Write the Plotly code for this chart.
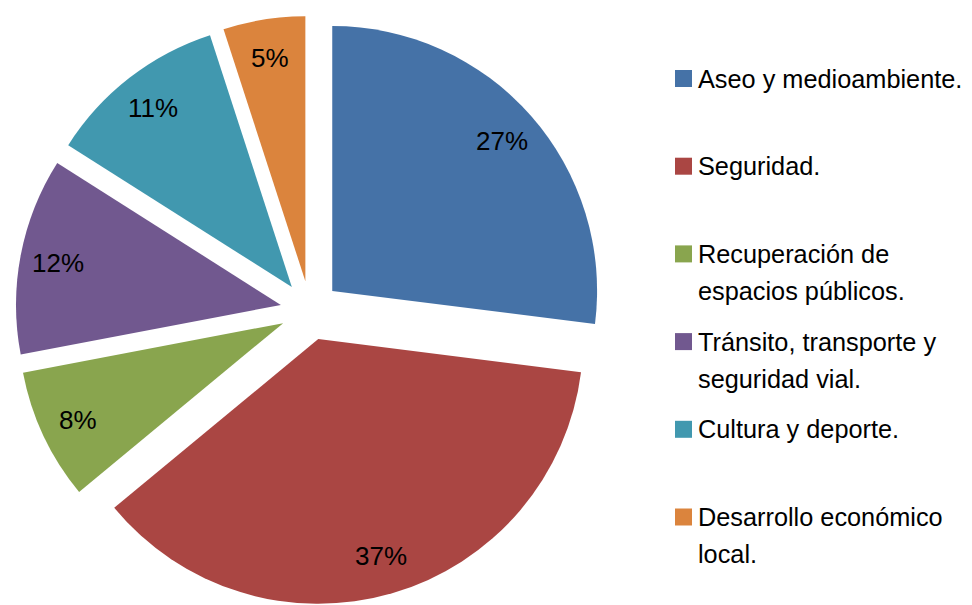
import math
import plotly.graph_objects as go

# ---- data ----
categories = [
    "Aseo y medioambiente.",
    "Seguridad.",
    "Recuperación de<br>espacios públicos.",
    "Tránsito, transporte y<br>seguridad vial.",
    "Cultura y deporte.",
    "Desarrollo económico<br>local.",
]
values = [27, 37, 8, 12, 11, 5]
colors = ["#4572A7", "#AA4643", "#89A54E", "#71588F", "#4198AF", "#DB843D"]

# ---- layout constants ----
OFF = 8                      # page body margin of the html page
W, H = 972 - OFF, 605 - OFF  # figure size
M_T, M_B, M_L, M_R = 8, 0, 0, 0
PW, PH = W - M_L - M_R, H - M_T - M_B
PIE_W = 604
PULL = 0.112
LABEL_R = 0.855              # label distance from slice origin, fraction of radius
FONT = "Liberation Sans, Arial, sans-serif"
FS = 26
FS_LEG = 25.3

pie_dom_x = [0, PIE_W / PW]
pie_dom_y = [0, 1]

fig = go.Figure(
    go.Pie(
        labels=[c.replace("<br>", " ") for c in categories],
        values=values,
        marker=dict(colors=colors, line=dict(width=0)),
        sort=False,
        direction="clockwise",
        rotation=0,
        pull=[PULL] * len(values),
        textinfo="none",
        domain=dict(x=pie_dom_x, y=pie_dom_y),
        showlegend=False,
        hoverinfo="label+percent",
    )
)


def paper_x(x):  # figure px -> paper
    return (x - M_L) / PW


def paper_y(y):
    return 1 - (y - M_T) / PH


shapes, annotations = [], []

# ---- percentage labels (Excel "inside end" style), derived from the values ----
box_w = PW * (pie_dom_x[1] - pie_dom_x[0])
box_h = PH * (pie_dom_y[1] - pie_dom_y[0])
R = min(box_w, box_h) / (2 + 2 * PULL)
CX = M_L + PW * (pie_dom_x[0] + pie_dom_x[1]) / 2
CY = M_T + PH * (2 - pie_dom_y[0] - pie_dom_y[1]) / 2
total = sum(values)
cum = 0
for v in values:
    mid = (cum + v / 2) / total * 2 * math.pi
    cum += v
    dx, dy = math.sin(mid), -math.cos(mid)
    dist = R * PULL + R * LABEL_R
    annotations.append(
        dict(
            text=f"{round(100 * v / total)}%", xref="paper", yref="paper",
            x=paper_x(CX + dx * dist), y=paper_y(CY + dy * dist),
            xanchor="center", yanchor="middle", showarrow=False,
            font=dict(family=FONT, size=FS, color="black"),
        )
    )

# ---- legend drawn manually (Excel-style: marker aligned with first line) ----
LEG_SQ_X0, LEG_SQ_SIZE = 675 - OFF, 17
LEG_TXT_X = 696 - OFF
LEG_Y0, LEG_STEP, LINE_H = 78.5 - OFF, 87.7, 37

for i, (lab, col) in enumerate(zip(categories, colors)):
    yc = LEG_Y0 + i * LEG_STEP
    shapes.append(
        dict(
            type="rect", xref="paper", yref="paper",
            x0=paper_x(LEG_SQ_X0), x1=paper_x(LEG_SQ_X0 + LEG_SQ_SIZE),
            y0=paper_y(yc + LEG_SQ_SIZE / 2), y1=paper_y(yc - LEG_SQ_SIZE / 2),
            fillcolor=col, line=dict(width=0),
        )
    )
    for j, line in enumerate(lab.split("<br>")):
        annotations.append(
            dict(
                text=line, xref="paper", yref="paper",
                x=paper_x(LEG_TXT_X), y=paper_y(yc + j * LINE_H),
                xanchor="left", yanchor="middle", showarrow=False,
                font=dict(family=FONT, size=FS_LEG, color="black"),
            )
        )

fig.update_layout(
    width=W, height=H,
    margin=dict(l=M_L, r=M_R, t=M_T, b=M_B),
    paper_bgcolor="white", plot_bgcolor="white",
    shapes=shapes, annotations=annotations,
    font=dict(family=FONT),
)

fig.write_html("out.html")
